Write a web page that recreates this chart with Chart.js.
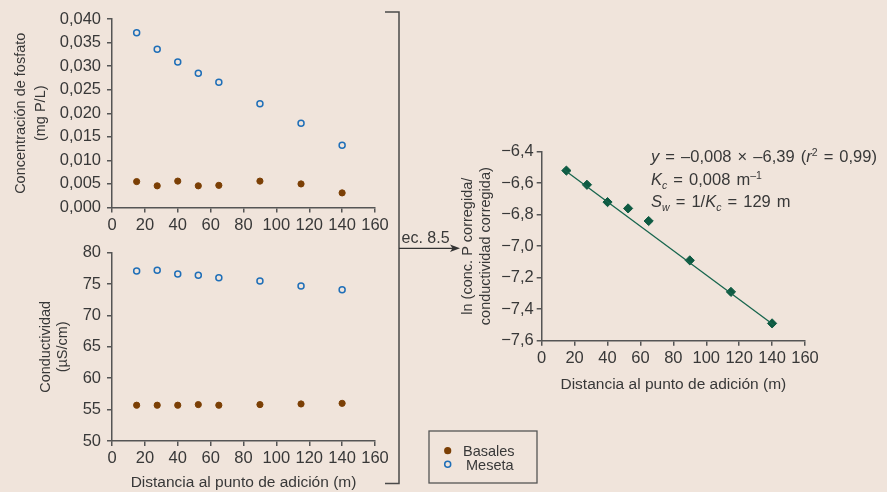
<!DOCTYPE html>
<html>
<head>
<meta charset="utf-8">
<script src="https://cdn.jsdelivr.net/npm/chart.js@4.4.1/dist/chart.umd.min.js"></script>
<style>
  html, body { margin: 0; padding: 0; }
  body { width: 887px; height: 492px; background: #f0e4db; position: relative; overflow: hidden;
         font-family: "Liberation Sans", Arial, sans-serif; color: #383838; }
  canvas { position: absolute; left: 0; top: 0; }
  svg { position: absolute; left: 0; top: 0; }
  .txt { position: absolute; white-space: nowrap; }
  .eq { left: 651px; top: 145px; font-size: 16.5px; line-height: 22.5px; word-spacing: 1.5px; }
  .eq sup, .eq sub { font-size: 10.5px; line-height: 0; }
  .lg { font-size: 14.5px; line-height: 14px; }
</style>
</head>
<body>
<canvas id="cTop" width="887" height="492"></canvas>
<canvas id="cBot" width="887" height="492"></canvas>
<canvas id="cRight" width="887" height="492"></canvas>
<svg width="887" height="492">
  <path d="M385 12 H399 V483.5 H385" fill="none" stroke="#4a4a4a" stroke-width="1.5"/>
  <path d="M399 248.3 H453" fill="none" stroke="#333" stroke-width="1.3"/>
  <path d="M460 248.3 L450 244.5 L452.5 248.3 L450 252.1 Z" fill="#333"/>
  <rect x="429" y="431" width="108" height="52" fill="none" stroke="#555" stroke-width="1.3"/>
  <circle cx="447.7" cy="450.7" r="3.6" fill="#7b3f05"/>
  <circle cx="447.7" cy="464.3" r="3" fill="none" stroke="#1f6fb8" stroke-width="1.5"/>
</svg>
<div class="txt" style="left:401.5px; top:229px; font-size:16px;">ec. 8.5</div>
<div class="txt lg" style="left:463px; top:443.5px;">Basales</div>
<div class="txt lg" style="left:466px; top:457.5px;">Meseta</div>
<div class="txt eq">
  <div><i>y</i> = –0,008 × –6,39 (<i>r</i><sup>2</sup> = 0,99)</div>
  <div><i>K<sub>c</sub></i> = 0,008 m<sup>–1</sup></div>
  <div><i>S<sub>w</sub></i> = 1/<i>K<sub>c</sub></i> = 129 m</div>
</div>
<script>
// ---- data ----
const distance = [15, 27.5, 40, 52.5, 65, 90, 115, 140];
const phosphateBasal = [0.0055, 0.0046, 0.0056, 0.0046, 0.0047, 0.0056, 0.0050, 0.0031];
const phosphatePlateau = [0.0371, 0.0336, 0.0309, 0.0285, 0.0266, 0.0220, 0.0179, 0.0132];
const conductBasal = [55.7, 55.7, 55.7, 55.8, 55.7, 55.8, 55.9, 56.0];
const conductPlateau = [77.1, 77.2, 76.6, 76.4, 76.0, 75.5, 74.7, 74.1];
const lnRatio = [-6.52, -6.61, -6.72, -6.76, -6.84, -7.09, -7.29, -7.49];
const fitX = [13, 141];
const fitY = [-6.51, -7.50];

const distTicks = [0, 20, 40, 60, 80, 100, 120, 140, 160];
const distTickLabels = ['0', '20', '40', '60', '80', '100', '120', '140', '160'];
const phTicks = [0, 0.005, 0.01, 0.015, 0.02, 0.025, 0.03, 0.035, 0.04];
const phTickLabels = ['0,000', '0,005', '0,010', '0,015', '0,020', '0,025', '0,030', '0,035', '0,040'];
const condTicks = [50, 55, 60, 65, 70, 75, 80];
const condTickLabels = ['50', '55', '60', '65', '70', '75', '80'];
const lnTicks = [-7.6, -7.4, -7.2, -7.0, -6.8, -6.6, -6.4];
const lnTickLabels = ['−7,6', '−7,4', '−7,2', '−7,0', '−6,8', '−6,6', '−6,4'];

const seriesNames = ['Basales', 'Meseta'];

// ---- styles ----
const FONT = '"Liberation Sans", Arial, sans-serif';
const TXT = '#383838';
const AX = '#555555';
const BROWN = '#7b3f05';
const BLUE = '#1f6fb8';
const GREEN = '#0e5a42';
Chart.defaults.font.family = FONT;
Chart.defaults.color = TXT;

const pts = (xs, ys) => xs.map((x, i) => ({ x: x, y: ys[i] }));

function axis(min, max, ticks, labels, o) {
  o = o || {};
  const a = {
    type: 'linear', min: min, max: max,
    afterBuildTicks: s => { s.ticks = ticks.map(v => ({ value: v })); },
    ticks: { callback: (v, i) => labels[i], font: { size: 16.5 }, color: TXT,
             padding: o.tpad !== undefined ? o.tpad : 3, autoSkip: false, maxRotation: 0 },
    grid: { display: true, drawOnChartArea: false, drawTicks: true, tickLength: 5, color: AX, lineWidth: 1.5 },
    border: { display: true, color: AX, width: 1.5 },
    afterFit: s => { if (o.width !== undefined) s.width = o.width; if (o.height !== undefined) s.height = o.height; }
  };
  if (o.title) a.title = o.title;
  return a;
}

const common = {
  responsive: false, animation: false, devicePixelRatio: 1,
  plugins: { legend: { display: false }, tooltip: { enabled: false } }
};

const basalStyle = { pointStyle: 'circle', pointRadius: 3.1, pointBorderWidth: 1,
  pointBackgroundColor: BROWN, pointBorderColor: BROWN };
const plateauStyle = { pointStyle: 'circle', pointRadius: 3, pointBorderWidth: 1.5,
  pointBackgroundColor: 'rgba(0,0,0,0)', pointBorderColor: BLUE };

// Top: phosphate
new Chart(document.getElementById('cTop'), {
  type: 'scatter',
  data: { datasets: [
    Object.assign({ label: seriesNames[0], data: pts(distance, phosphateBasal) }, basalStyle),
    Object.assign({ label: seriesNames[1], data: pts(distance, phosphatePlateau) }, plateauStyle)
  ]},
  options: Object.assign({}, common, {
    layout: { padding: { left: 0, top: 19, right: 512, bottom: 259.5 } },
    scales: {
      x: axis(0, 160, distTicks, distTickLabels, { height: 25 }),
      y: axis(0, 0.04, phTicks, phTickLabels, { width: 112, tpad: 6,
        title: { display: true, text: ['Concentración de fosfato', '(mg P/L)'],
                 font: { size: 14.5, lineHeight: 1.4 }, color: TXT, padding: { top: 11, bottom: 0 } } })
    }
  })
});

// Bottom: conductivity
new Chart(document.getElementById('cBot'), {
  type: 'scatter',
  data: { datasets: [
    Object.assign({ label: seriesNames[0], data: pts(distance, conductBasal) }, basalStyle),
    Object.assign({ label: seriesNames[1], data: pts(distance, conductPlateau) }, plateauStyle)
  ]},
  options: Object.assign({}, common, {
    layout: { padding: { left: 0, top: 252.7, right: 512, bottom: 0 } },
    scales: {
      x: axis(0, 160, distTicks, distTickLabels, { height: 51,
        title: { display: true, text: 'Distancia al punto de adición (m)',
                 font: { size: 15.5 }, color: TXT, padding: { top: 0, bottom: 0 } } }),
      y: axis(50, 80, condTicks, condTickLabels, { width: 112, tpad: 6,
        title: { display: true, text: ['Conductividad', '(µS/cm)'],
                 font: { size: 14.5, lineHeight: 1.2 }, color: TXT, padding: { top: 37.3, bottom: 0 } } })
    }
  })
});

// Right: ln ratio
new Chart(document.getElementById('cRight'), {
  type: 'scatter',
  data: { datasets: [
    { label: 'ajuste', data: pts(fitX, fitY), showLine: true, borderColor: '#17654d', borderWidth: 1.3,
      pointRadius: 0, fill: false },
    { label: 'ln', data: pts(distance, lnRatio), pointStyle: 'rectRot', pointRadius: 4.6, pointBorderWidth: 1,
      pointBackgroundColor: GREEN, pointBorderColor: GREEN }
  ]},
  options: Object.assign({}, common, {
    layout: { padding: { left: 450, top: 151.7, right: 82, bottom: 97.7 } },
    scales: {
      x: axis(0, 160, distTicks, distTickLabels, { height: 53.6,
        title: { display: true, text: 'Distancia al punto de adición (m)',
                 font: { size: 15.5 }, color: TXT, padding: { top: 0, bottom: 0 } } }),
      y: axis(-7.6, -6.4, lnTicks, lnTickLabels, { width: 91.7, tpad: 3,
        title: { display: true, text: ['ln (conc. P corregida/', 'conductividad corregida)'],
                 font: { size: 14.5, lineHeight: 1.276 }, color: TXT, padding: { top: 8.25, bottom: 0 } } })
    }
  })
});
</script>
</body>
</html>
